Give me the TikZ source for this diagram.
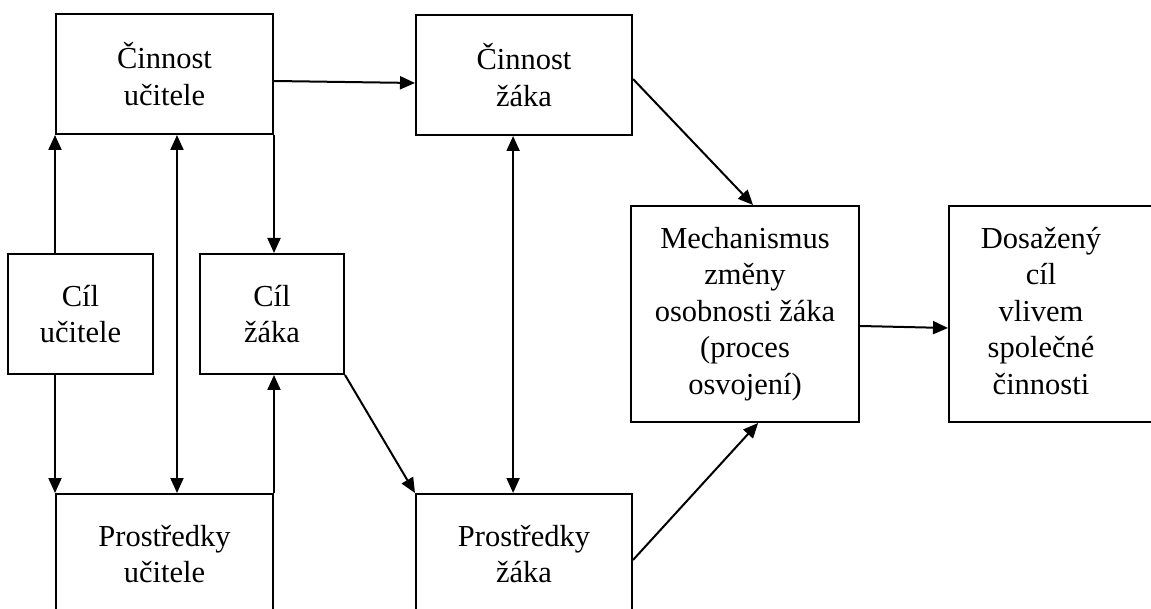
\documentclass[tikz,border=0pt]{standalone}
\usepackage{fontspec}
\setmainfont{Liberation Serif}
\usetikzlibrary{arrows.meta,calc}
\begin{document}
\begin{tikzpicture}[x=1pt,y=-1pt,
  basebox/.style={draw,line width=2pt,inner sep=0pt,
    font=\fontsize{30.5}{36.5}\selectfont},
  box/.style={basebox,align=center},
  arr/.style={line width=2pt,-{Triangle[length=15pt,width=13pt]}},
  darr/.style={line width=2pt,{Triangle[length=15pt,width=13pt]}-{Triangle[length=15pt,width=13pt]}}]
\fill[white] (0,0) rectangle (1151,609);
\useasboundingbox (0,0) rectangle (1151,609);
\clip (0,0) rectangle (1151,609);
% boxes
\node[box,minimum width=217pt,minimum height=120pt] (cu) at (164.5,74) {Činnost\\učitele};
\node[box,minimum width=216pt,minimum height=120pt] (cz) at (524,75) {Činnost\\žáka};
\node[box,minimum width=145pt,minimum height=120pt] (gu) at (80.5,314) {Cíl\\učitele};
\node[box,minimum width=144pt,minimum height=120pt] (gz) at (272,314) {Cíl\\žáka};
\node[box,minimum width=217pt,minimum height=120pt] (pu) at (164.5,554) {Prostředky\\učitele};
\node[box,minimum width=216pt,minimum height=120pt] (pz) at (524,554) {Prostředky\\žáka};
\node[box,minimum width=228pt,minimum height=216pt] (m) at (745,314) {Mechanismus\\změny\\osobnosti žáka\\(proces\\osvojení)};
\node[basebox,minimum width=212pt,minimum height=216pt] (d) at (1055,314)
  {\begin{tabular}{@{}c@{}}Dosažený\\cíl\\vlivem\\společné\\činnosti\end{tabular}\hspace*{28pt}};
% connectors
\draw[arr] (gu.north -| cu.west) -- (cu.south west);
\draw[arr] (gu.south -| pu.west) -- (pu.north west);
\draw[darr] ($(cu.south west)!0.557!(cu.south east)$) -- ($(pu.north west)!0.557!(pu.north east)$);
\draw[arr] (cu.south east) -- (gz.north -| cu.east);
\draw[arr] (pu.north east) -- (gz.south -| pu.east);
\draw[arr] (gz.south east) -- (pz.north west);
\draw[darr] ($(cz.south west)!0.45!(cz.south east)$) -- ($(pz.north west)!0.45!(pz.north east)$);
\draw[arr] ([yshift=-7pt]cu.east) -- ([yshift=-8pt]cz.west);
\draw[arr] ([yshift=-4pt]cz.east) -- ($(m.north west)!0.535!(m.north east)$);
\draw[arr] ([yshift=-6pt]pz.east) -- ($(m.south west)!0.557!(m.south east)$);
\draw[arr] ([yshift=-12pt]m.east) -- ([yshift=-14pt]d.west);
\end{tikzpicture}
\end{document}
